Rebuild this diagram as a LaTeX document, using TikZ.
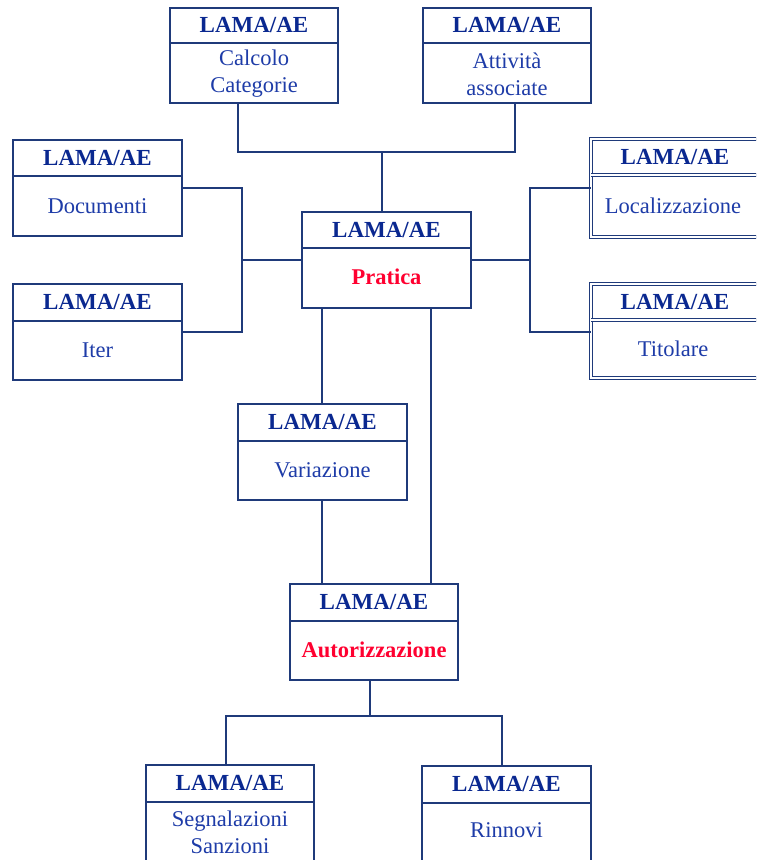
\documentclass[tikz,border=0pt]{standalone}
\usepackage{fontspec}
\setmainfont{Liberation Serif}
\usetikzlibrary{calc}
\definecolor{lineblue}{HTML}{1F3A7A}
\definecolor{hdrblue}{HTML}{0A2890}
\definecolor{txtblue}{HTML}{1E3CA8}
\definecolor{redtxt}{HTML}{FF0030}
\tikzset{
  boxsingle/.style={draw=lineblue, line width=1.8pt, fill=white, inner sep=0pt, rectangle},
  boxdouble/.style={draw=lineblue, line width=0.9pt, double=white, double distance=1.6pt, fill=white, inner sep=0pt, rectangle},
  divsingle/.style={draw=lineblue, line width=1.8pt},
  divdouble/.style={draw=lineblue, line width=0.9pt, double=white, double distance=1.6pt},
  conn/.style={draw=lineblue, line width=1.8pt},
  hdr/.style={font=\fontsize{23}{24}\selectfont\bfseries, text=hdrblue, inner sep=0pt},
  body/.style={font=\fontsize{22.5}{27}\selectfont, text=txtblue, inner sep=0pt, align=center},
  bodyred/.style={font=\fontsize{22.5}{27}\selectfont\bfseries, text=redtxt, inner sep=0pt, align=center},
}
% #1 name, #2 x1, #3 y1, #4 x2, #5 y2, #6 ydiv, #7 box style, #8 divider style, #9 body node
\newcommand\lamabox[9]{%
  \node[#7, minimum width={#4pt-#2pt}, minimum height={#5pt-#3pt}] (#1) at ({(#2+#4)/2},{(#3+#5)/2}) {};
  \draw[#8] (#2,#6) -- (#4,#6);
  \node[hdr] (#1-h) at ({(#2+#4)/2},{(#3+#6)/2}) {LAMA/AE};
  #9
}
\begin{document}
\begin{tikzpicture}[x=1pt,y=-1pt]
\useasboundingbox (0,0) rectangle (756,860);
\begin{scope}
\clip (0,0) rectangle (756,860);

\coordinate (jt) at (382,152);
\coordinate (jl) at (242,260);
\coordinate (jr) at (530,260);
\coordinate (jb) at (370,716);

\lamabox{calc}{170}{8}{338}{103}{43}{boxsingle}{divsingle}{\node[body] (calc-b) at (254,74) {Calcolo\\Categorie};}
\lamabox{att}{423}{8}{591}{103}{43}{boxsingle}{divsingle}{\node[body] (att-b) at (507,74) {Attività\\associate};}
\lamabox{doc}{13}{140}{182}{236}{176}{boxsingle}{divsingle}{\node[body] (doc-b) at (97.5,206) {Documenti};}
\lamabox{iter}{13}{284}{182}{380}{321}{boxsingle}{divsingle}{\node[body] (iter-b) at (97.5,350) {Iter};}
\lamabox{prat}{302}{212}{471}{308}{248}{boxsingle}{divsingle}{\node[bodyred] (prat-b) at (386.5,277) {Pratica};}
\lamabox{loc}{591}{139}{759}{237}{175}{boxdouble}{divdouble}{\node[body] (loc-b) at (673,206) {Localizzazione};}
\lamabox{tit}{591}{284}{759}{378}{320}{boxdouble}{divdouble}{\node[body] (tit-b) at (673,349) {Titolare};}
\lamabox{var}{238}{404}{407}{500}{441}{boxsingle}{divsingle}{\node[body] (var-b) at (322.5,470) {Variazione};}
\lamabox{aut}{290}{584}{458}{680}{621}{boxsingle}{divsingle}{\node[bodyred] (aut-b) at (374,650) {Autorizzazione};}
\lamabox{seg}{146}{765}{314}{864}{802}{boxsingle}{divsingle}{\node[body] (seg-b) at (230,832) {Segnalazioni\\Sanzioni};}
\lamabox{rin}{422}{766}{591}{864}{803}{boxsingle}{divsingle}{\node[body] (rin-b) at (506.5,830) {Rinnovi};}

% top tree
\draw[conn] (prat.north -| jt) -- (jt);
\draw[conn] (calc.south -| 238,0) |- (jt) -| (att.south -| 515,0);
% left tree
\draw[conn] (prat.west) -- (jl);
\draw[conn] (doc.east |- 0,188) -| (jl) |- (iter.east |- 0,332);
% right tree
\draw[conn] (prat.east) -- (jr);
\draw[conn] (loc.west |- 0,188) -| (jr) |- (tit.west |- 0,332);
% down
\draw[conn] (prat.south -| 322,0) -- (var.north -| 322,0);
\draw[conn] (prat.south -| 431,0) -- (aut.north -| 431,0);
\draw[conn] (var.south -| 322,0) -- (aut.north -| 322,0);
% bottom tree
\draw[conn] (aut.south -| jb) -- (jb);
\draw[conn] (seg.north -| 226,0) |- (jb) -| (rin.north -| 502,0);
\end{scope}
\end{tikzpicture}
\end{document}
